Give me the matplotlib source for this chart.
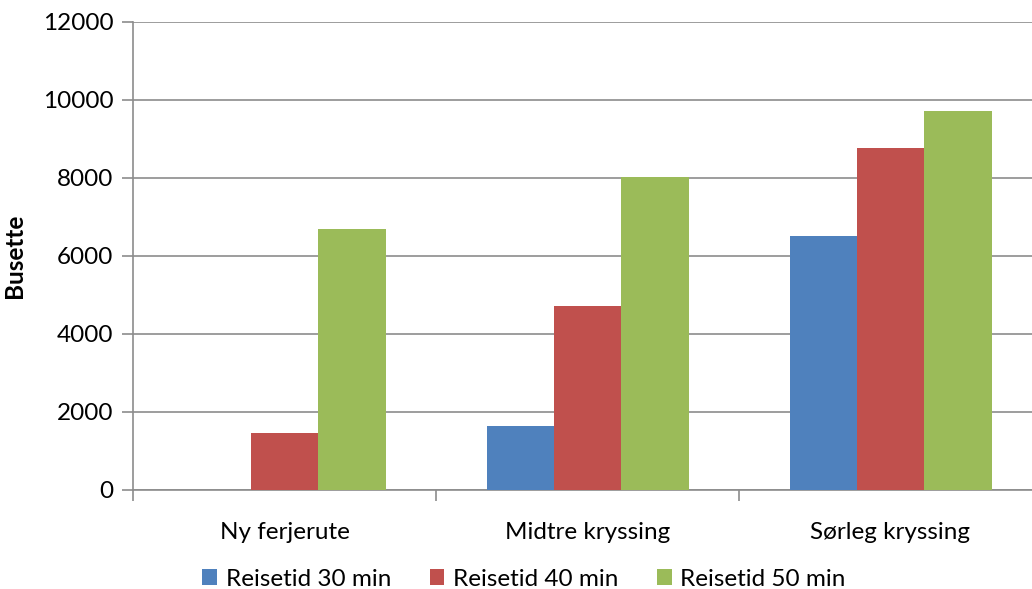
import matplotlib
matplotlib.use("Agg")
import matplotlib.pyplot as plt
import numpy as np

categories = ["Ny ferjerute", "Midtre kryssing", "Sørleg kryssing"]
series_names = ["Reisetid 30 min", "Reisetid 40 min", "Reisetid 50 min"]
reisetid_30 = [0, 1630, 6510]
reisetid_40 = [1460, 4720, 8765]
reisetid_50 = [6690, 8030, 9730]
y_ticks = [0, 2000, 4000, 6000, 8000, 10000, 12000]

colors = ["#4F81BD", "#C0504D", "#9BBB59"]
plt.rcParams["font.family"] = ["Lato", "DejaVu Sans"]
fs = 17.5

fig = plt.figure(figsize=(10.32, 5.89), dpi=100)
ax = fig.add_axes([133 / 1032, 99 / 589, 909 / 1032, 468 / 589])

n = len(series_names)
bar_w = 1 / (n + 1.5)
x = np.arange(len(categories))
for i, (vals, name) in enumerate(zip([reisetid_30, reisetid_40, reisetid_50], series_names)):
    offs = (i - (n - 1) / 2) * bar_w
    ax.bar(x + offs, vals, width=bar_w, color=colors[i], label=name, zorder=3,
           edgecolor="none")

ax.set_xlim(-0.5, len(categories) - 0.5)
ax.set_ylim(0, 12000)
ax.set_yticks(y_ticks)
ax.set_yticklabels([str(v) for v in y_ticks], fontsize=fs)
ax.yaxis.grid(True, color="#8C8C8C", linewidth=1.2, zorder=0)

ax.set_xticks(x)
ax.set_xticklabels(categories, fontsize=fs)
ax.set_xticks(np.arange(len(categories) + 1) - 0.5, minor=True)
ax.tick_params(axis="x", which="major", length=0, pad=23)
ax.tick_params(axis="x", which="minor", length=8, width=1.2, color="#8C8C8C")
ax.tick_params(axis="y", length=8, width=1.2, color="#8C8C8C", pad=6)

for s in ["top", "right"]:
    ax.spines[s].set_visible(False)
for s in ["left", "bottom"]:
    ax.spines[s].set_color("#8C8C8C")
    ax.spines[s].set_linewidth(1.2)

ax.set_ylabel("Busette", fontsize=fs, fontweight="bold", labelpad=12)

leg = fig.legend(loc="center", bbox_to_anchor=(524 / 1032, 1 - 579 / 589), ncol=3,
                 frameon=False, fontsize=fs, handlelength=0.6, handleheight=0.6,
                 handletextpad=0.35, columnspacing=1.6)

fig.savefig("out.png", dpi=100)
